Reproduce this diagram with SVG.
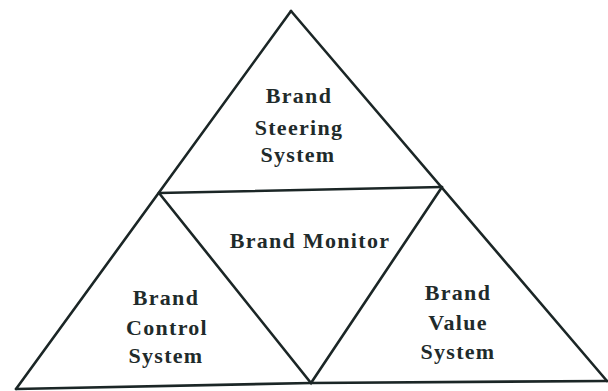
<svg xmlns="http://www.w3.org/2000/svg" width="608" height="391" viewBox="0 0 608 391">
  <style>
    .edge { fill: none; stroke: #1b2626; stroke-width: 2.6; stroke-linejoin: miter; stroke-linecap: round; }
    .label { font-family: "Liberation Serif", "Times New Roman", serif; font-weight: bold; font-size: 22px; letter-spacing: 1.3px; fill: #1f2b2b; text-anchor: middle; }
  </style>
  <rect width="608" height="391" fill="#ffffff"/>

  <!-- outline and inner dividing lines -->
  <g id="connectors">
    <path class="edge" d="M291,11 L16,389"/>
    <path class="edge" d="M291,11 L607,381"/>
    <path class="edge" d="M16,389 L311,383 L607,381"/>
    <path class="edge" d="M159,193 L442,187"/>
    <path class="edge" d="M159,193 L311,383 L442,187"/>
  </g>

  <g id="brand-steering-system">
    <text class="label" x="299" y="103">Brand</text>
    <text class="label" x="299" y="135">Steering</text>
    <text class="label" x="298" y="162">System</text>
  </g>

  <g id="brand-monitor">
    <text class="label" x="310" y="248">Brand Monitor</text>
  </g>

  <g id="brand-control-system">
    <text class="label" x="166" y="305">Brand</text>
    <text class="label" x="167" y="335">Control</text>
    <text class="label" x="166" y="363">System</text>
  </g>

  <g id="brand-value-system">
    <text class="label" x="458" y="300">Brand</text>
    <text class="label" x="458" y="330">Value</text>
    <text class="label" x="458" y="359">System</text>
  </g>
</svg>
